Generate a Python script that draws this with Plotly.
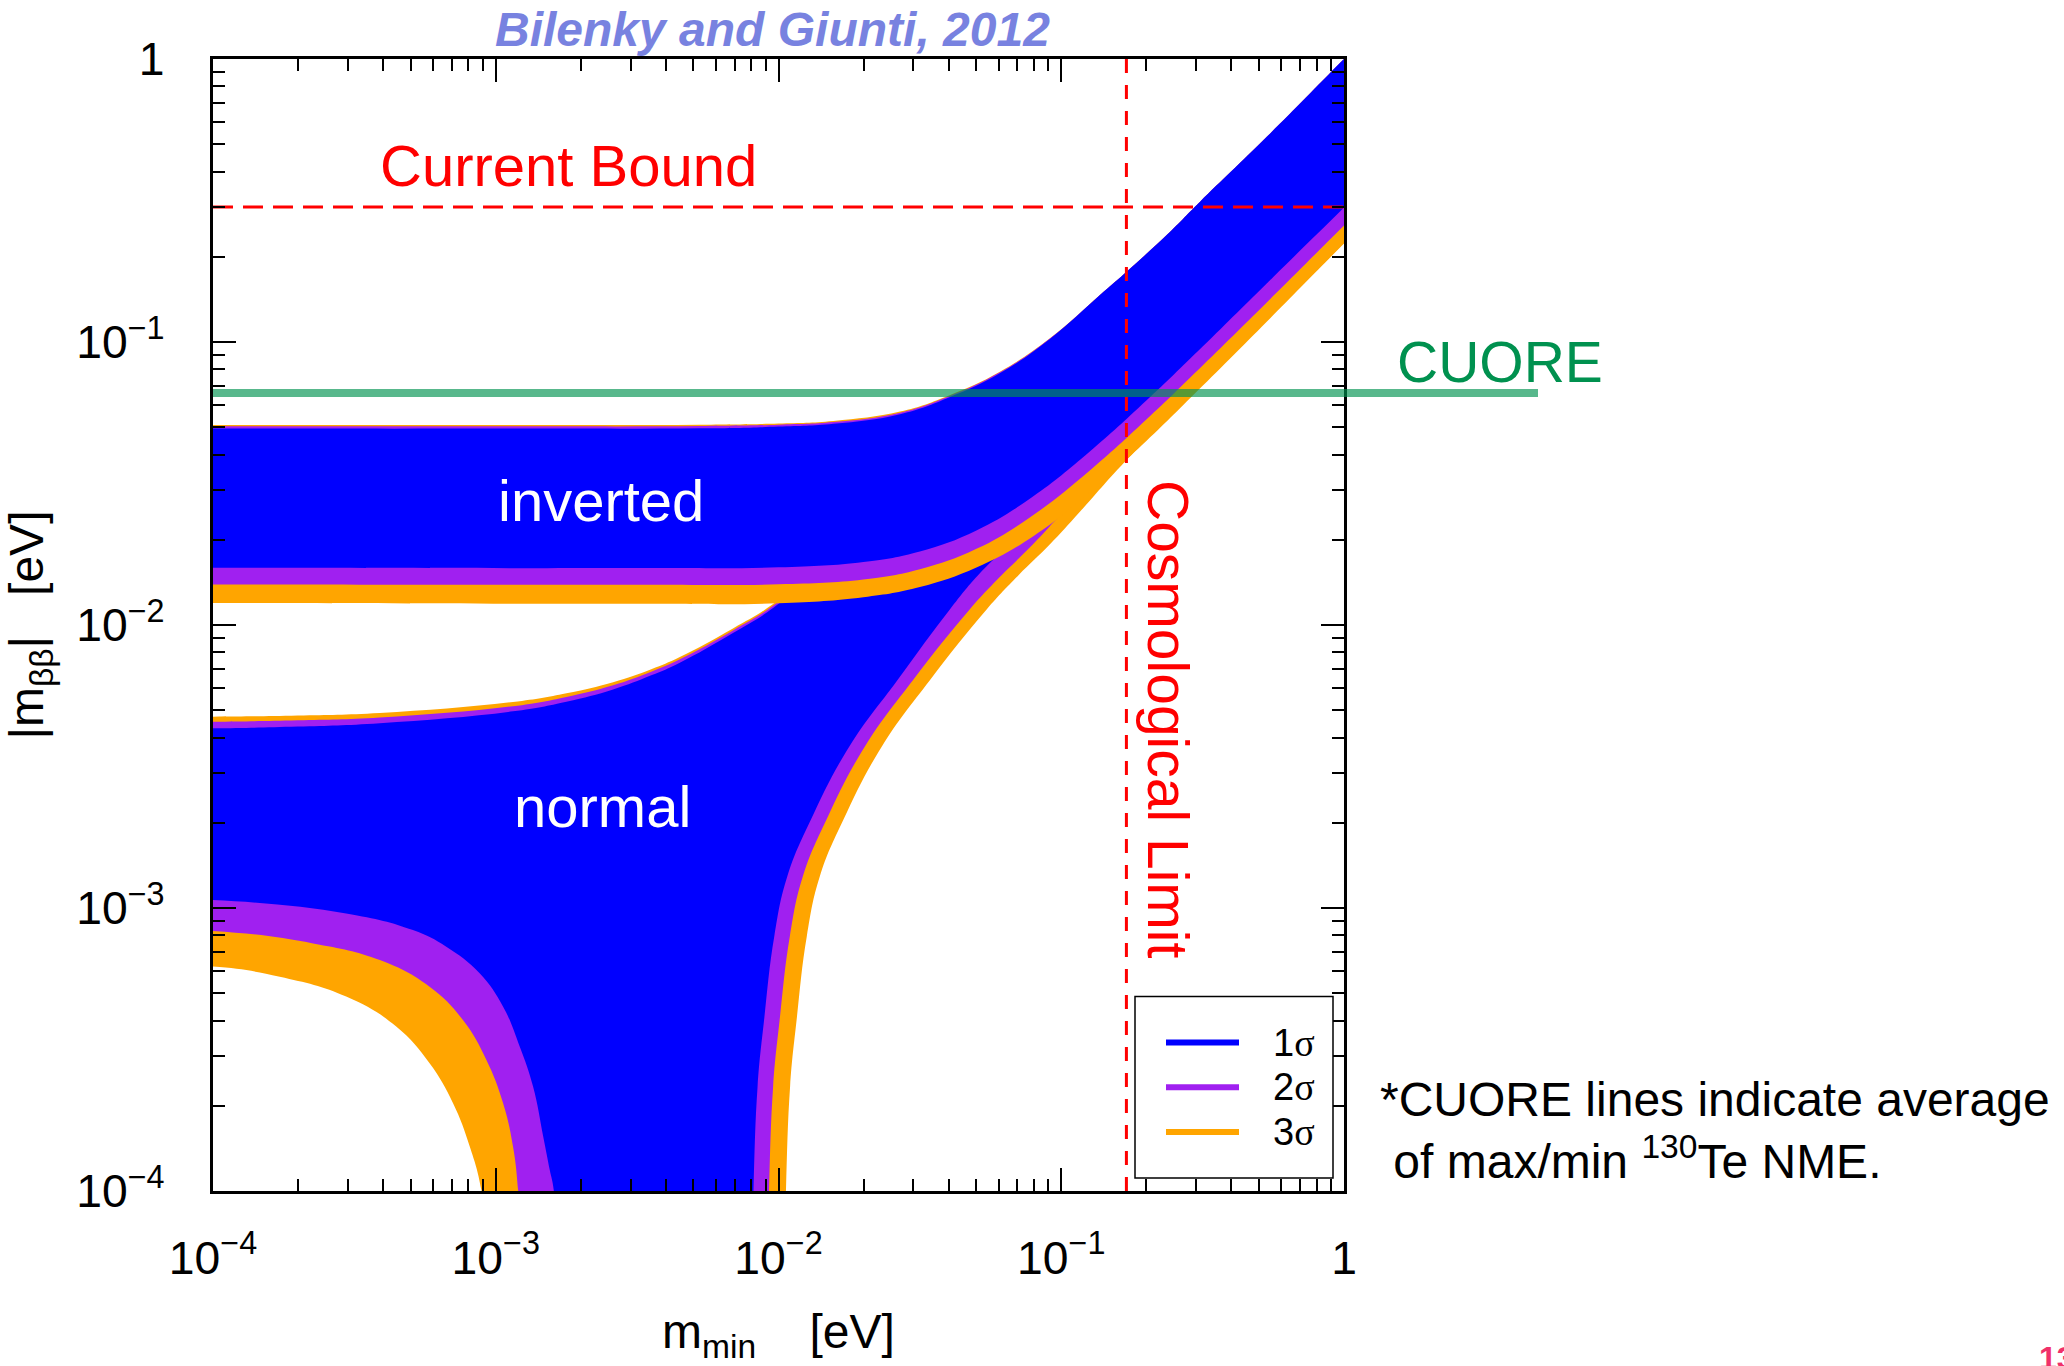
import numpy as np
import plotly.graph_objects as go

# ---------------- values (log10 units) ----------------
# x = log10(m_min / eV), y = log10(|m_bb| / eV)

# Inverted hierarchy: upper edges (3 sigma, 2 sigma, 1 sigma)
ih_up_logm = [-4.0, -3.0, -2.278, -2.0, -1.806, -1.570, -1.393, -1.217, -1.040, -0.863, -0.775, -0.627, -0.509, -0.273, 0.0]
ih_up3_log = [-1.293, -1.293, -1.292, -1.288, -1.279, -1.246, -1.187, -1.105, -0.987, -0.834, -0.757, -0.622, -0.504, -0.275, 0.0]
ih_up2_log = [-1.298, -1.298, -1.297, -1.292, -1.283, -1.250, -1.190, -1.107, -0.988, -0.834, -0.757, -0.622, -0.504, -0.275, 0.0]
ih_up1_log = [-1.306, -1.306, -1.305, -1.299, -1.289, -1.255, -1.194, -1.110, -0.989, -0.834, -0.757, -0.622, -0.504, -0.275, 0.0]

# Inverted hierarchy: lower edges
ih_lo_logm = [-4.0, -2.5, -2.0, -1.7, -1.5, -1.3, -1.1, -0.9, -0.7, -0.5, -0.25, 0.0]
ih_lo1_log = [-1.798, -1.799, -1.796, -1.777, -1.740, -1.666, -1.546, -1.388, -1.208, -1.016, -0.770, -0.525]
ih_lo2_log = [-1.857, -1.858, -1.856, -1.839, -1.803, -1.731, -1.612, -1.455, -1.275, -1.083, -0.837, -0.588]
ih_lo3_log = [-1.922, -1.925, -1.923, -1.902, -1.866, -1.797, -1.687, -1.531, -1.351, -1.155, -0.905, -0.652]

# Normal hierarchy: upper edges
nh_up_logm = [-4.0, -3.7, -3.41, -2.939, -2.75, -2.585, -2.45, -2.349, -2.161, -2.018, -1.7, -1.5, -1.0, -0.5, 0.0]
nh_up3_log = [-2.324, -2.320, -2.311, -2.272, -2.241, -2.202, -2.156, -2.113, -2.012, -1.925, -1.658, -1.481, -1.000, -0.520, -0.015]
nh_up2_log = [-2.342, -2.337, -2.327, -2.287, -2.254, -2.213, -2.165, -2.121, -2.019, -1.931, -1.663, -1.485, -1.003, -0.523, -0.018]
nh_up1_log = [-2.365, -2.359, -2.347, -2.305, -2.271, -2.228, -2.178, -2.133, -2.028, -1.939, -1.670, -1.490, -1.006, -0.526, -0.021]

# Normal hierarchy: lower edges, left branch (drops into the cancellation region)
nh_lo3_left_logm = [-4.0, -3.764, -3.529, -3.352, -3.234, -3.151, -3.092, -3.051, -3.02, -2.99]
nh_lo3_left_log = [-3.207, -3.243, -3.313, -3.419, -3.549, -3.690, -3.843, -3.996, -4.3, -4.7]
nh_lo2_left_logm = [-4.0, -3.646, -3.410, -3.234, -3.116, -3.033, -2.974, -2.939, -2.921, -2.905, -2.89]
nh_lo2_left_log = [-3.081, -3.125, -3.184, -3.278, -3.396, -3.537, -3.690, -3.843, -3.996, -4.3, -4.7]
nh_lo1_left_logm = [-4.0, -3.529, -3.293, -3.175, -3.057, -2.974, -2.915, -2.868, -2.832, -2.809, -2.795, -2.78, -2.765]
nh_lo1_left_log = [-2.972, -3.019, -3.078, -3.137, -3.231, -3.349, -3.490, -3.631, -3.808, -3.926, -3.996, -4.3, -4.7]

# Normal hierarchy: lower edges, right branch (rises out of the cancellation region)
nh_lo3_right_logm = [-1.984, -1.979, -1.9735, -1.959, -1.936, -1.900, -1.854, -1.771, -1.635, -1.464, -1.264, -1.152, -1.040, -0.934, -0.775, -0.486, 0.0]
nh_lo3_right_log = [-4.7, -4.3, -3.996, -3.631, -3.396, -3.101, -2.889, -2.689, -2.430, -2.194, -1.945, -1.825, -1.715, -1.600, -1.423, -1.134, -0.650]
nh_lo2_right_logm = [-2.044, -2.039, -2.0335, -2.019, -1.996, -1.960, -1.914, -1.831, -1.695, -1.524, -1.324, -1.212, -1.100, -0.994, -0.835, -0.546, 0.0]
nh_lo2_right_log = [-4.7, -4.3, -3.996, -3.631, -3.396, -3.101, -2.889, -2.689, -2.430, -2.194, -1.945, -1.825, -1.715, -1.600, -1.423, -1.134, -0.588]
nh_lo1_right_logm = [-2.099, -2.094, -2.0885, -2.074, -2.051, -2.015, -1.969, -1.886, -1.750, -1.579, -1.394, -1.295, -1.180, -1.049, -0.890, -0.601, 0.0]
nh_lo1_right_log = [-4.7, -4.3, -3.996, -3.631, -3.396, -3.101, -2.889, -2.689, -2.430, -2.194, -1.945, -1.825, -1.715, -1.600, -1.423, -1.134, -0.530]

sigma_labels = ["1σ", "2σ", "3σ"]
sigma_colors = ["#0000FF", "#A020F0", "#FFA500"]

current_bound = 0.3        # eV
cosmo_limit = 0.17         # eV
cuore_sensitivity = 0.066  # eV

FONT = "Liberation Sans, Arial, Helvetica, sans-serif"


def polygon(up_x, up_y, lo_pieces):
    """Upper edge left->right, then lower pieces right->left (pieces listed right first).
    The ends are pushed outside the axes so the smoothing never shows at the frame."""
    xs = [up_x[0] - 0.3] + list(up_x) + [up_x[-1] + 0.3]
    ys = [up_y[0]] + list(up_y) + [up_y[-1] + 0.3]
    lo_x, lo_y = [], []
    for px_, py_ in lo_pieces:
        lo_x += list(px_)[::-1]
        lo_y += list(py_)[::-1]
    xs += [lo_x[0] + 0.3] + lo_x + [lo_x[-1] - 0.3]
    ys += [lo_y[0] + 0.3] + lo_y + [lo_y[-1]]
    return 10 ** np.array(xs), 10 ** np.array(ys)


bands = [
    # normal hierarchy (drawn first), 3σ -> 1σ
    (nh_up_logm, nh_up3_log, [(nh_lo3_right_logm, nh_lo3_right_log), (nh_lo3_left_logm, nh_lo3_left_log)], sigma_colors[2]),
    (nh_up_logm, nh_up2_log, [(nh_lo2_right_logm, nh_lo2_right_log), (nh_lo2_left_logm, nh_lo2_left_log)], sigma_colors[1]),
    (nh_up_logm, nh_up1_log, [(nh_lo1_right_logm, nh_lo1_right_log), (nh_lo1_left_logm, nh_lo1_left_log)], sigma_colors[0]),
    # inverted hierarchy on top
    (ih_up_logm, ih_up3_log, [(ih_lo_logm, ih_lo3_log)], sigma_colors[2]),
    (ih_up_logm, ih_up2_log, [(ih_lo_logm, ih_lo2_log)], sigma_colors[1]),
    (ih_up_logm, ih_up1_log, [(ih_lo_logm, ih_lo1_log)], sigma_colors[0]),
]

fig = go.Figure()
for ux, uy, lo, col in bands:
    x, y = polygon(ux, uy, lo)
    fig.add_trace(go.Scatter(
        x=x, y=y, mode="lines", fill="toself", fillcolor=col,
        line=dict(width=0, color=col, shape="spline", smoothing=1.2),
        hoverinfo="skip", showlegend=False))

# current bound (horizontal) and cosmological limit (vertical)
fig.add_trace(go.Scatter(x=[1e-4, 1], y=[current_bound, current_bound], mode="lines",
                         line=dict(color="#FF0000", width=3, dash="20px,10px"),
                         hoverinfo="skip", showlegend=False))
fig.add_trace(go.Scatter(x=[cosmo_limit, cosmo_limit], y=[1e-4, 1], mode="lines",
                         line=dict(color="#FF0000", width=3, dash="14px,12px"),
                         hoverinfo="skip", showlegend=False))

# plot box in pixels (for placing the text)
L, R, T, B = 213, 1344, 59, 1191
W, H = R - L, B - T


def px(xp):
    return (xp - L) / W


def py(yp):
    return (B - yp) / H


shapes = [
    # CUORE sensitivity line, running past the right frame
    dict(type="line", xref="paper", yref="y", x0=0, x1=px(1538), y0=cuore_sensitivity, y1=cuore_sensitivity,
         line=dict(color="rgba(0,147,79,0.655)", width=8), layer="above"),
    # legend box
    dict(type="rect", xref="paper", yref="paper", x0=px(1135), x1=px(1333), y0=py(1178), y1=py(996.5),
         line=dict(color="black", width=1.5), fillcolor="white", layer="above"),
]
legend_y = [1042.5, 1087.3, 1132]
for lab, col, yy in zip(sigma_labels, sigma_colors, legend_y):
    shapes.append(dict(type="line", xref="paper", yref="paper", x0=px(1166), x1=px(1239), y0=py(yy), y1=py(yy),
                       line=dict(color=col, width=6), layer="above"))

annotations = [
    dict(text="<b><i>Bilenky and Giunti, 2012</i></b>", x=px(772), y=py(29), font=dict(size=48, color="#7882E0")),
    dict(text="Current Bound", x=px(568), y=py(165), font=dict(size=58, color="#FF0000")),
    dict(text="CUORE", x=px(1500), y=py(362), font=dict(size=57, color="#00914F")),
    dict(text="inverted", x=px(600.5), y=py(500), font=dict(size=58, color="white")),
    dict(text="normal", x=px(602), y=py(806.7), font=dict(size=58, color="white")),
    dict(text="Cosmological Limit", x=px(1168), y=py(719), textangle=90, font=dict(size=57, color="#FF0000")),
    dict(text="*CUORE lines indicate average", x=px(1378), y=py(1099), xanchor="left",
         font=dict(size=48, color="black")),
    dict(text="\u00a0of max/min <sup>130</sup>Te NME.", x=px(1378), y=py(1158), xanchor="left",
         font=dict(size=48, color="black")),
    dict(text="<b>13</b>", x=px(2037), y=py(1358), xanchor="left", font=dict(size=32, color="#F0306A")),
]
for lab, yy in zip(sigma_labels, legend_y):
    annotations.append(dict(text=lab[0] + "<span style='font-family:Liberation Serif'>" + lab[1:] + "</span>",
                            x=px(1271), y=py(yy), xanchor="left", font=dict(size=38, color="black")))
for a in annotations:
    a.setdefault("xanchor", "center")
    a.update(xref="paper", yref="paper", yanchor="middle", showarrow=False)
    a["font"].setdefault("family", FONT)

axis_common = dict(
    type="log", range=[-4, 0], dtick=1, exponentformat="power",
    showgrid=False, zeroline=False,
    showline=True, linecolor="black", linewidth=3, mirror="ticks",
    ticks="inside", ticklen=23, tickwidth=2, tickcolor="black",
    tickfont=dict(family=FONT, size=37, color="black"),
    minor=dict(ticks="inside", ticklen=12, tickwidth=2, tickcolor="black", dtick="D1", showgrid=False),
    automargin=False,
)

fig.update_layout(
    width=2064, height=1366,
    margin=dict(l=L, r=2064 - R, t=T, b=1366 - B, pad=0),
    paper_bgcolor="white", plot_bgcolor="white",
    showlegend=False,
    font=dict(family=FONT, color="black"),
    xaxis=dict(**axis_common, ticklabelstandoff=26,
               title=dict(text="m<sub>min</sub>\u00a0\u00a0\u00a0\u00a0[eV]", font=dict(size=48, family=FONT),
                          standoff=32)),
    yaxis=dict(**axis_common, ticklabelstandoff=38,
               title=dict(text="|m<sub>ββ</sub>|\u00a0\u00a0\u00a0[eV]", font=dict(size=48, family=FONT),
                          standoff=23)),
    shapes=shapes,
    annotations=annotations,
)

fig.write_html("out.html")
